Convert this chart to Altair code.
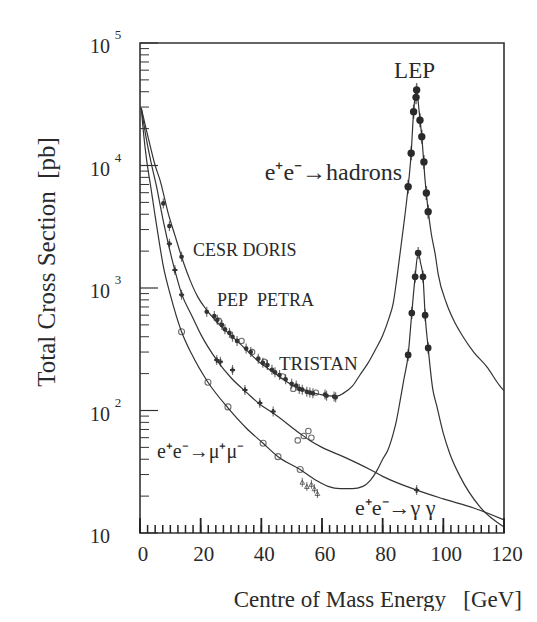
import altair as alt
import pandas as pd

# ---- curves (x in GeV, cross-section in pb) ----
had_x = [0.4, 2, 3.5, 5, 6.6, 9.3, 11.5, 13.7, 16.5, 19, 22, 25, 28.6, 33, 39.6, 44, 50.5, 55, 60, 64.9,
         67, 70, 72.5, 75, 77.5, 80, 82, 83.5, 84.6, 86.3, 88.4, 89.4, 90.2, 91.2, 92.0, 93.0, 94.0, 95.0,
         96.0, 97.3, 98.3, 101, 103.5, 106.5, 110, 114.3, 118.7, 120]
had_v = [29500, 20000, 14000, 10000, 7600, 4070, 2700, 1800, 1160, 850, 660, 540, 440, 350, 245, 205, 160, 145, 134, 131,
         138, 158, 195, 240, 310, 410, 560, 755, 1160, 2460, 6700, 12600, 27500, 41300, 28000, 16000, 7500, 4300,
         2800, 1900, 1300, 755, 540, 400, 300, 228, 158, 145]

gg_x = [0.4, 2, 3.5, 5.3, 7.7, 11, 13.7, 17, 20, 25.3, 30, 35.2, 39.6, 44, 52.7, 56, 60, 67, 75.8, 80, 91.2, 100, 110, 120]
gg_v = [29500, 17000, 11000, 7000, 3500, 1550, 900, 600, 420, 258, 185, 140, 112, 95, 65, 57, 50, 42, 33, 29, 22.4, 19, 16, 12.8]

mm_x = [0.4, 1.2, 2.2, 3.5, 4.9, 6.3, 7.7, 10, 13.7, 17, 22.4, 29, 35, 40.6, 45.5, 52.8, 58, 62, 66, 70, 73.5, 76, 78,
        80, 81.8, 83.5, 84.6, 85.7, 87, 88.4, 89.6, 90.7, 91.7, 92.5, 93.3, 94, 95, 96.5, 97.8, 100, 102.2, 105.5, 112, 120]
mm_v = [29500, 18000, 11000, 6800, 4000, 2400, 1500, 880, 440, 290, 170, 105, 72, 54, 42, 33, 27, 24, 23, 23, 24, 27, 32,
        40, 48, 65, 84, 118, 180, 284, 625, 1233, 1930, 1600, 1233, 600, 324, 150, 110, 65, 44, 29, 16.4, 11.2]

# ---- measured points ----
hadpt_x = [7.7, 9.7, 13.7, 22, 24.5, 25.5, 27, 28, 29.5, 30.5, 32, 35, 36.5, 39, 40.5, 42, 43.5, 44.5, 46, 48, 50,
           51.5, 52.5, 53.5, 55, 56, 57, 61, 61.5, 64, 64.5]
hadpt_v = [4900, 3200, 1800, 640, 590, 550, 500, 460, 430, 400, 370, 320, 300, 265, 245, 235, 215, 205, 195, 180, 165,
           160, 150, 148, 142, 140, 138, 135, 132, 130, 128]
hadopen_x = [26, 33.5, 37, 41, 47, 50.5, 58]
hadopen_v = [540, 370, 300, 250, 190, 150, 140]

lephad_x = [88.4, 89.4, 90.2, 91.0, 91.2, 92.3, 92.9, 93.6, 94.4, 95.0]
lephad_v = [6700, 12600, 27500, 36000, 41300, 23400, 17200, 10700, 5960, 4200]

lepmm_x = [88.4, 89.6, 90.7, 91.7, 93.3, 94, 95]
lepmm_v = [284, 625, 1233, 1930, 1233, 600, 324]

mmopen_x = [13.7, 22.4, 29, 40.6, 45.5, 52.8]
mmopen_v = [440, 170, 107, 54, 42, 33]
mmsmall_x = [53.5, 55, 56.5, 57.5, 58.5]
mmsmall_v = [26, 24, 25, 23, 21]

ggpt_x = [9.7, 11.5, 13.7, 25.3, 26.5, 30.5, 34.6, 39.5, 43.9, 91.2]
ggpt_v = [2300, 1400, 880, 258, 250, 214, 147, 115, 98, 22.4]
ggopen_x = [52, 54, 55.5, 56.5]
ggopen_v = [57, 62, 68, 60]

# ---- axis ticks / labels ----
y_major = [10, 100, 1000, 10000, 100000]
y_minor = [m * d for d in [10, 100, 1000, 10000] for m in range(2, 10)]
y_exp = ["", "2", "3", "4", "5"]
x_major = [0, 20, 40, 60, 80, 100, 120]
x_minor = [i * 2.5 for i in range(0, 49)]
x_labels = ["0", "20", "40", "60", "80", "100", "120"]

# ---- annotations (data coordinates) ----
ann_text = ["CESR DORIS", "PEP\u00a0\u00a0PETRA", "TRISTAN",
            "e\u207ae\u207b\u2192\u03bc\u207a\u03bc\u207b", "e\u207ae\u207b\u2192\u03b3\u00a0\u03b3"]
ann_x = [17.5, 25.4, 45.8, 5.6, 70.9]
ann_v = [2005, 783, 240, 45.8, 16]
ann_size = [18, 18, 19, 20, 22]

SERIF = "Liberation Serif"
INK = "#2a2a2a"
H = 490

xs = alt.Scale(domain=[0, 120], nice=False, zero=False)
ys = alt.Scale(type="log", domain=[10, 100000], nice=False)
X = lambda f="x": alt.X(f"{f}:Q", scale=xs, axis=None)
Y = lambda f="v": alt.Y(f"{f}:Q", scale=ys, axis=None)

curves = pd.concat([
    pd.DataFrame({"x": had_x, "v": had_v, "s": "had"}),
    pd.DataFrame({"x": gg_x, "v": gg_v, "s": "gg"}),
    pd.DataFrame({"x": mm_x, "v": mm_v, "s": "mm"}),
])

lines = alt.Chart(curves).mark_line(color="#333", strokeWidth=1.2, interpolate="monotone").encode(
    x=X(), y=Y(), detail="s:N")

def df(xx, vv):
    return pd.DataFrame({"x": xx, "v": vv})

had_pts = alt.Chart(df(hadpt_x, hadpt_v)).mark_circle(size=22, color="#333", opacity=1).encode(x=X(), y=Y())
had_err = alt.Chart(df(hadpt_x, hadpt_v)).mark_tick(orient="vertical", size=10, thickness=1.2, color="#333").encode(x=X(), y=Y())
had_open = alt.Chart(df(hadopen_x, hadopen_v)).mark_point(size=28, color="#333", strokeWidth=1.1, filled=False).encode(x=X(), y=Y())

lep_had = alt.Chart(df(lephad_x, lephad_v)).mark_circle(size=55, color="#2a2a2a", opacity=1).encode(x=X(), y=Y())
lep_had_err = alt.Chart(df(lephad_x, lephad_v)).mark_tick(orient="vertical", size=14, thickness=1.5, color="#2a2a2a").encode(x=X(), y=Y())
lep_mm = alt.Chart(df(lepmm_x, lepmm_v)).mark_circle(size=45, color="#2a2a2a", opacity=1).encode(x=X(), y=Y())
lep_mm_err = alt.Chart(df(lepmm_x, lepmm_v)).mark_tick(orient="vertical", size=12, thickness=1.3, color="#2a2a2a").encode(x=X(), y=Y())

mm_open = alt.Chart(df(mmopen_x, mmopen_v)).mark_point(size=36, color="#333", strokeWidth=1.1, filled=False).encode(x=X(), y=Y())
mm_small = alt.Chart(df(mmsmall_x, mmsmall_v)).mark_point(shape="triangle-up", size=22, color="#333", strokeWidth=1, filled=False).encode(x=X(), y=Y())
mm_small_err = alt.Chart(df(mmsmall_x, mmsmall_v)).mark_tick(orient="vertical", size=9, thickness=1, color="#333").encode(x=X(), y=Y())

gg_pts = alt.Chart(df(ggpt_x, ggpt_v)).mark_point(shape="cross", size=26, color="#333", filled=True, opacity=1).encode(x=X(), y=Y())
gg_err = alt.Chart(df(ggpt_x, ggpt_v)).mark_tick(orient="vertical", size=10, thickness=1.1, color="#333").encode(x=X(), y=Y())
gg_open = alt.Chart(df(ggopen_x, ggopen_v)).mark_point(size=30, color="#333", strokeWidth=1.1, filled=False).encode(x=X(), y=Y())

# ticks (inward)
ymaj = alt.Chart(pd.DataFrame({"v": y_major})).mark_rule(color="#333", strokeWidth=1.2).encode(
    y=Y(), x=alt.value(0), x2=alt.value(18))
ymin = alt.Chart(pd.DataFrame({"v": y_minor})).mark_rule(color="#333", strokeWidth=1).encode(
    y=Y(), x=alt.value(0), x2=alt.value(9))

# bottom ticks drawn as stroked symbols (vertical segment rising from the plot floor)
TICK_PATH = "M0,0L0,-2"   # unit segment; length = sqrt(size)
xmaj = alt.Chart(pd.DataFrame({"x": x_major, "t": x_labels})).mark_point(
    shape=TICK_PATH, size=225, filled=False, color="#222", strokeWidth=1.8, opacity=1).encode(
    x=X(), y=alt.value(H))
xmin = alt.Chart(pd.DataFrame({"x": x_minor, "k": ["m"] * len(x_minor)})).mark_point(
    shape=TICK_PATH, size=64, filled=False, color="#222", strokeWidth=1.5, opacity=1).encode(
    x=X(), y=alt.value(H))

# tick labels
ylab_df = pd.DataFrame({"v": y_major, "t": ["10"] * 5, "e": y_exp})
ylab = alt.Chart(ylab_df).mark_text(font=SERIF, fontSize=20, color=INK, align="center", baseline="middle", dy=4).encode(
    y=Y(), x=alt.value(-40), text="t:N")
yexp = alt.Chart(ylab_df).mark_text(font=SERIF, fontSize=13, color=INK, align="center", baseline="middle", dy=-8).encode(
    y=Y(), x=alt.value(-22), text="e:N")
xlab = alt.Chart(pd.DataFrame({"x": x_major, "t": x_labels})).mark_text(
    font=SERIF, fontSize=21, color=INK, align="center", baseline="middle", dx=3).encode(
    x=X(), y=alt.value(512), text="t:N")

# annotations
ann = alt.Chart(pd.DataFrame({"x": ann_x, "v": ann_v, "t": ann_text, "fs": ann_size})).mark_text(
    font=SERIF, color=INK, align="left", baseline="middle").encode(
    x=X(), y=Y(), text="t:N", size=alt.Size("fs:Q", scale=None, legend=None))
lep = alt.Chart(pd.DataFrame({"x": [90.5], "v": [59000], "t": ["LEP"]})).mark_text(
    font=SERIF, fontSize=23, color=INK, align="center", baseline="middle").encode(x=X(), y=Y(), text="t:N")
hadlab = alt.Chart(pd.DataFrame({"x": [86.4], "v": [8690], "t": ["e\u207ae\u207b\u2192hadrons"]})).mark_text(
    font=SERIF, fontSize=24, color=INK, align="right", baseline="middle").encode(x=X(), y=Y(), text="t:N")

ytitle = alt.Chart(pd.DataFrame({"t": ["Total Cross Section\u00a0\u00a0[pb]"]})).mark_text(
    font=SERIF, fontSize=25, color=INK, angle=270, align="center", baseline="middle").encode(
    x=alt.value(-93), y=alt.value(219), text="t:N")
xtitle = alt.Chart(pd.DataFrame({"t": ["Centre of Mass Energy\u00a0\u00a0\u00a0[GeV]"]})).mark_text(
    font=SERIF, fontSize=23, color=INK, align="right", baseline="middle").encode(
    x=alt.value(382), y=alt.value(557), text="t:N")

chart = alt.layer(
    lines, ymin, ymaj,
    had_err, had_pts, had_open, lep_had_err, lep_had, lep_mm_err, lep_mm,
    mm_open, mm_small_err, mm_small, gg_err, gg_pts, gg_open,
    ylab, yexp, xlab, ann, lep, hadlab, ytitle, xtitle, xmin, xmaj,
).properties(
    width=364, height=H,
    autosize=alt.AutoSizeParams(type="none"),
    padding={"left": 132, "top": 35, "right": 25, "bottom": 78},
    background="white",
).configure_view(stroke="#333", strokeWidth=1.6)

chart.save("out.html", embed_options={"renderer": "svg", "actions": False})
